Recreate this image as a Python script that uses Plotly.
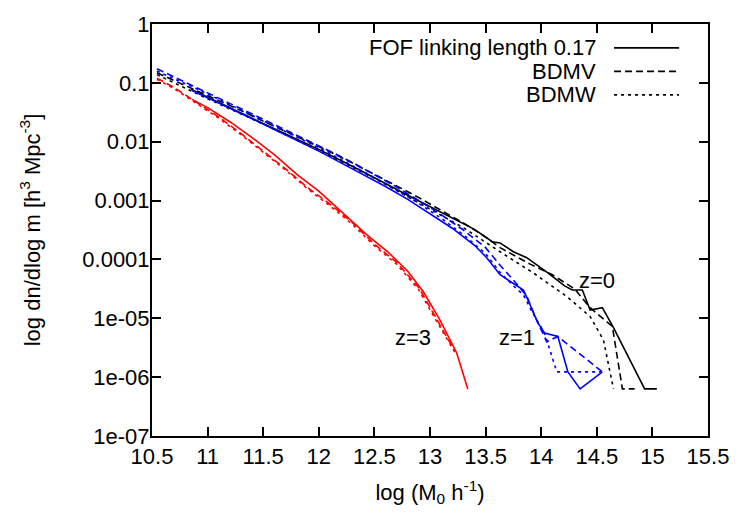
import plotly.graph_objects as go

# halo mass function, log10 values
# z=0
x_fof_z0 = [10.85, 11.0, 11.2, 11.4, 11.6, 11.8, 12.0, 12.2, 12.4, 12.6, 12.8, 13.0, 13.2, 13.4,
            13.56, 13.63, 13.75, 13.87, 14.06, 14.21, 14.28, 14.37, 14.44, 14.55, 14.65, 14.93, 15.04]
y_fof_z0 = [-1.11, -1.24, -1.42, -1.60, -1.78, -1.95, -2.13, -2.32, -2.51, -2.71, -2.91, -3.10, -3.29, -3.49,
            -3.70, -3.72, -3.87, -3.97, -4.23, -4.45, -4.52, -4.52, -4.86, -4.82, -5.16, -6.20, -6.20]
x_bdmv_z0 = [10.545, 10.7, 10.9, 11.1, 11.3, 11.5, 11.7, 11.9, 12.1, 12.3, 12.5, 12.7, 12.9, 13.1, 13.3,
             13.5, 13.63, 13.9, 14.1, 14.3, 14.44, 14.64, 14.73, 14.84]
y_bdmv_z0 = [-0.83, -0.96, -1.13, -1.30, -1.47, -1.65, -1.82, -1.99, -2.17, -2.36, -2.55, -2.75, -2.95, -3.16, -3.38,
             -3.62, -3.80, -4.08, -4.26, -4.50, -4.82, -5.14, -6.20, -6.20]
x_bdmw_z0 = [10.545, 11.0, 11.5, 12.0, 12.5, 13.0, 13.3, 13.63, 13.93, 14.23, 14.44, 14.56, 14.65]
y_bdmw_z0 = [-0.86, -1.27, -1.70, -2.15, -2.62, -3.14, -3.46, -3.87, -4.23, -4.63, -4.97, -5.37, -6.20]

# z=1
x_fof_z1 = [10.86, 11.0, 11.2, 11.4, 11.6, 11.8, 12.0, 12.2, 12.4, 12.6, 12.8, 13.0, 13.2, 13.4,
            13.51, 13.63, 13.84, 13.90, 13.97, 14.03, 14.15, 14.24, 14.35, 14.55]
y_fof_z1 = [-1.13, -1.25, -1.43, -1.61, -1.79, -1.97, -2.16, -2.36, -2.56, -2.76, -2.98, -3.22, -3.47, -3.76,
            -3.97, -4.26, -4.52, -4.77, -5.08, -5.25, -5.31, -5.91, -6.20, -5.91]
x_bdmv_z1 = [10.545, 10.7, 10.9, 11.1, 11.3, 11.5, 11.7, 11.9, 12.1, 12.3, 12.5, 12.7, 12.9, 13.1, 13.3,
             13.5, 13.63, 13.75, 13.87, 13.94, 14.05, 14.15, 14.55]
y_bdmv_z1 = [-0.76, -0.90, -1.07, -1.25, -1.43, -1.61, -1.79, -1.97, -2.16, -2.35, -2.56, -2.77, -3.00, -3.24, -3.50,
             -3.80, -4.10, -4.35, -4.62, -4.95, -5.40, -5.31, -5.91]
x_bdmw_z1 = [10.545, 10.7, 10.9, 11.1, 11.3, 11.5, 11.7, 11.9, 12.1, 12.3, 12.5, 12.7, 12.9, 13.1, 13.3,
             13.5, 13.63, 13.75, 13.84, 13.92, 14.03, 14.14, 14.55]
y_bdmw_z1 = [-0.80, -0.93, -1.10, -1.28, -1.46, -1.64, -1.82, -2.01, -2.20, -2.40, -2.61, -2.82, -3.05, -3.30, -3.58,
             -3.90, -4.22, -4.45, -4.60, -4.90, -5.25, -5.91, -5.91]

# z=3
x_fof_z3 = [10.86, 11.0, 11.2, 11.4, 11.6, 11.8, 12.0, 12.2, 12.43, 12.62, 12.8, 12.94, 13.09, 13.24, 13.34]
y_fof_z3 = [-1.28, -1.42, -1.66, -1.93, -2.22, -2.55, -2.84, -3.19, -3.58, -3.87, -4.20, -4.55, -5.03, -5.59, -6.20]
x_bdmv_z3 = [10.545, 10.7, 10.9, 11.1, 11.3, 11.5, 11.7, 11.9, 12.1, 12.3, 12.5, 12.7, 12.9, 13.05, 13.22]
y_bdmv_z3 = [-0.92, -1.08, -1.33, -1.58, -1.86, -2.16, -2.46, -2.78, -3.06, -3.37, -3.74, -4.05, -4.48, -4.98, -5.55]
x_bdmw_z3 = [10.545, 10.7, 10.9, 11.1, 11.3, 11.5, 11.7, 11.9, 12.1, 12.3, 12.5, 12.7, 12.9, 13.05, 13.23]
y_bdmw_z3 = [-0.94, -1.10, -1.35, -1.60, -1.88, -2.18, -2.48, -2.80, -3.09, -3.40, -3.77, -4.08, -4.52, -5.02, -5.60]

y_ticks = [1, 0.1, 0.01, 0.001, 0.0001, 1e-5, 1e-6, 1e-7]
y_tick_text = ["1", "0.1", "0.01", "0.001", "0.0001", "1e-05", "1e-06", "1e-07"]

legend_names = ["FOF linking length 0.17", "BDMV", "BDMW"]
z_labels = [("z=0", 14.50, -4.35), ("z=1", 13.78, -5.33), ("z=3", 12.85, -5.33)]

FONT = "Liberation Sans, Arial, sans-serif"
FS = 22
DASH = "7px,4px"
DOT = "3px,4px"

series = [
    (x_fof_z0, y_fof_z0, "black", "solid"),
    (x_bdmv_z0, y_bdmv_z0, "black", DASH),
    (x_bdmw_z0, y_bdmw_z0, "black", DOT),
    (x_fof_z1, y_fof_z1, "#0000ff", "solid"),
    (x_bdmv_z1, y_bdmv_z1, "#0000ff", DASH),
    (x_bdmw_z1, y_bdmw_z1, "#0000ff", DOT),
    (x_fof_z3, y_fof_z3, "#ff0000", "solid"),
    (x_bdmv_z3, y_bdmv_z3, "#ff0000", DASH),
    (x_bdmw_z3, y_bdmw_z3, "#ff0000", DOT),
]

fig = go.Figure()
for xs, ys, color, dash in series:
    fig.add_trace(go.Scatter(
        x=xs,
        y=[10 ** v for v in ys],
        mode="lines",
        line=dict(color=color, width=1.6, dash=dash),
        showlegend=False,
        hoverinfo="skip",
    ))

# gnuplot style key: text on the left, line sample on the right
for i, (name, dash) in enumerate(zip(legend_names, ["solid", DASH, DOT])):
    yp = 0.942 - i * 0.057
    fig.add_annotation(x=0.802, y=yp, xref="paper", yref="paper", text=name,
                       showarrow=False, xanchor="right", yanchor="middle",
                       font=dict(size=FS, color="black", family=FONT))
    fig.add_shape(type="line", xref="paper", yref="paper", x0=0.831, x1=0.948, y0=yp, y1=yp,
                  line=dict(color="black", width=1.6, dash=dash))

for text, xv, yv in z_labels:
    fig.add_annotation(x=xv, y=yv, text=text, showarrow=False,
                       font=dict(size=FS, color="black", family=FONT))

axis_common = dict(
    showline=True, linecolor="black", linewidth=2, mirror="ticks",
    ticks="inside", ticklen=9, tickwidth=1.5, tickcolor="black",
    showgrid=False, zeroline=False, automargin=False,
    tickfont=dict(size=FS, color="black", family=FONT),
)

fig.update_layout(
    width=747, height=532,
    margin=dict(l=152, r=39, t=24, b=96),
    paper_bgcolor="white", plot_bgcolor="white",
    font=dict(family=FONT, size=FS, color="black"),
    xaxis=dict(range=[10.5, 15.5], dtick=0.5, tick0=10.5,
               title=dict(text="log (M<sub>0</sub> h<sup>-1</sup>)", standoff=16,
                          font=dict(size=FS, family=FONT)),
               **axis_common),
    yaxis=dict(type="log", range=[-7, 0], tickvals=y_ticks, ticktext=y_tick_text,
               ticklabelstandoff=-4,
               title=dict(text="log dn/dlog m [h<sup>3</sup> Mpc<sup>-3</sup>]", standoff=36,
                          font=dict(size=FS, family=FONT)),
               **axis_common),
)

# drop the browser's default body margin so the figure sits at the page origin
fig.write_html("out.html", config={"displayModeBar": False},
               post_script="document.body.style.margin='0';")
